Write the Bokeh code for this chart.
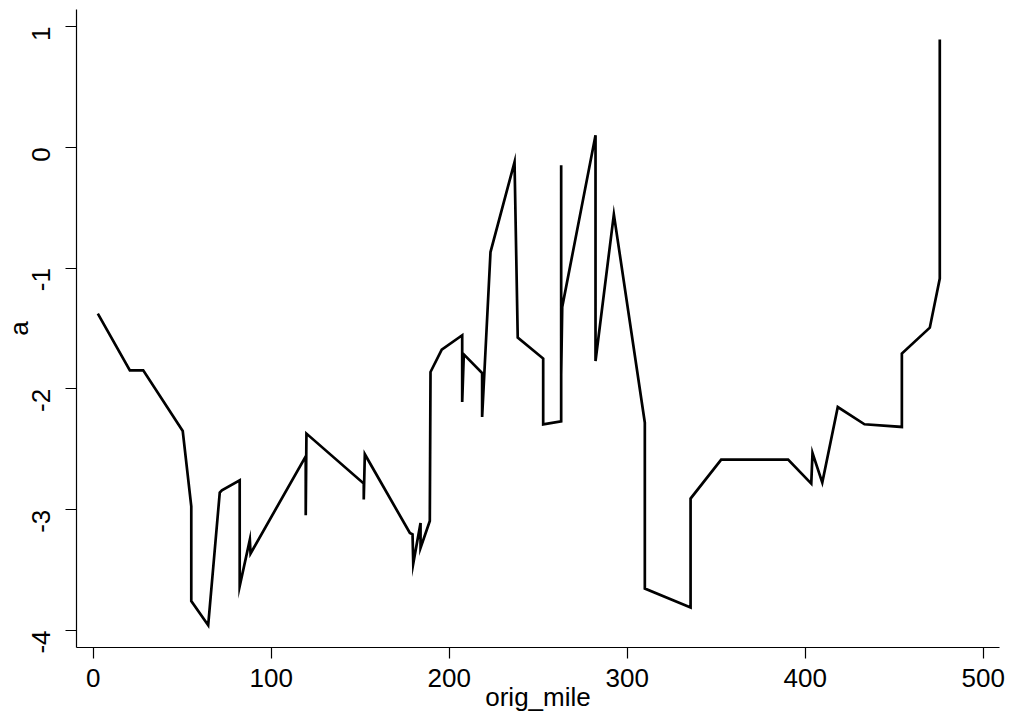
import math
from bokeh.plotting import figure
from bokeh.models import Range1d, FixedTicker
from bokeh.embed import file_html
from bokeh.resources import INLINE

orig_mile = [2.6, 20.6, 28.1, 50.3, 55.1, 55.1, 64.6, 71.1, 72.3, 82.3, 82.3, 88.0, 88.4,
             119.4, 119.4, 119.8, 152.0, 152.0, 152.6, 177.9, 179.4, 179.8, 183.9, 183.9,
             189.1, 189.5, 195.8, 207.3, 207.3, 208.2, 218.5, 218.5, 223.2, 236.7, 238.5,
             252.8, 252.8, 262.9, 262.9, 262.9, 263.5, 282.2, 282.2, 292.5, 309.9, 309.9,
             335.6, 335.6, 352.8, 390.4, 403.4, 404.1, 409.6, 418.3, 433.3, 454.3, 454.3,
             470.0, 475.6, 475.6]
a = [-1.377, -1.846, -1.846, -2.349, -2.972, -3.756, -3.957, -2.858, -2.839, -2.757, -3.634,
     -3.248, -3.363, -2.558, -3.046, -2.370, -2.784, -2.916, -2.541, -3.193, -3.204, -3.446,
     -3.110, -3.317, -3.094, -1.860, -1.675, -1.556, -2.108, -1.714, -1.868, -2.233, -0.867,
     -0.122, -1.575, -1.749, -2.293, -2.268, -0.149, -1.887, -1.322, 0.100, -1.769, -0.555,
     -2.280, -3.653, -3.810, -2.908, -2.586, -2.586, -2.784, -2.531, -2.776, -2.150, -2.293,
     -2.315, -1.708, -1.493, -1.087, 0.892]

x_ticks = [0, 100, 200, 300, 400, 500]
y_ticks = [-4, -3, -2, -1, 0, 1]
y_tick_labels = ["-4", "-3", "-2", "-1", "0", "1"]
x_title = "orig_mile"
y_title = "a"

FONT = "Liberation Sans"

p = figure(frame_width=923, frame_height=638, output_backend="svg", toolbar_location=None,
           x_range=Range1d(-9.38, 509.15), y_range=Range1d(-4.141, 1.141),
           min_border_left=76, min_border_right=14, min_border_top=9, min_border_bottom=80)
p.outline_line_color = None
p.grid.grid_line_color = None
p.background_fill_color = "white"
p.border_fill_color = "white"

p.line(orig_mile, a, line_color="black", line_width=2.7, line_join="miter")

for ax in (p.xaxis[0], p.yaxis[0]):
    ax.axis_line_color = "black"
    ax.axis_line_width = 1.2
    ax.major_tick_line_color = "black"
    ax.major_tick_line_width = 1.2
    ax.major_tick_out = 11
    ax.major_tick_in = 0
    ax.minor_tick_line_color = None
    ax.major_label_text_font = FONT
    ax.major_label_text_font_size = "26px"
    ax.major_label_text_color = "black"
    ax.axis_label_text_font = FONT
    ax.axis_label_text_font_size = "26px"
    ax.axis_label_text_font_style = "normal"
    ax.axis_label_text_color = "black"

p.xaxis.ticker = FixedTicker(ticks=x_ticks)
p.yaxis.ticker = FixedTicker(ticks=y_ticks)
p.yaxis.major_label_overrides = {t: s for t, s in zip(y_ticks, y_tick_labels)}
p.xaxis.axis_label = x_title
p.yaxis.axis_label = y_title
p.yaxis.major_label_orientation = math.pi / 2
p.xaxis.major_label_standoff = 10
p.yaxis.major_label_standoff = 24
p.xaxis.axis_label_standoff = -8
p.yaxis.axis_label_standoff = -13

open("out.html", "w").write(file_html(p, INLINE))
